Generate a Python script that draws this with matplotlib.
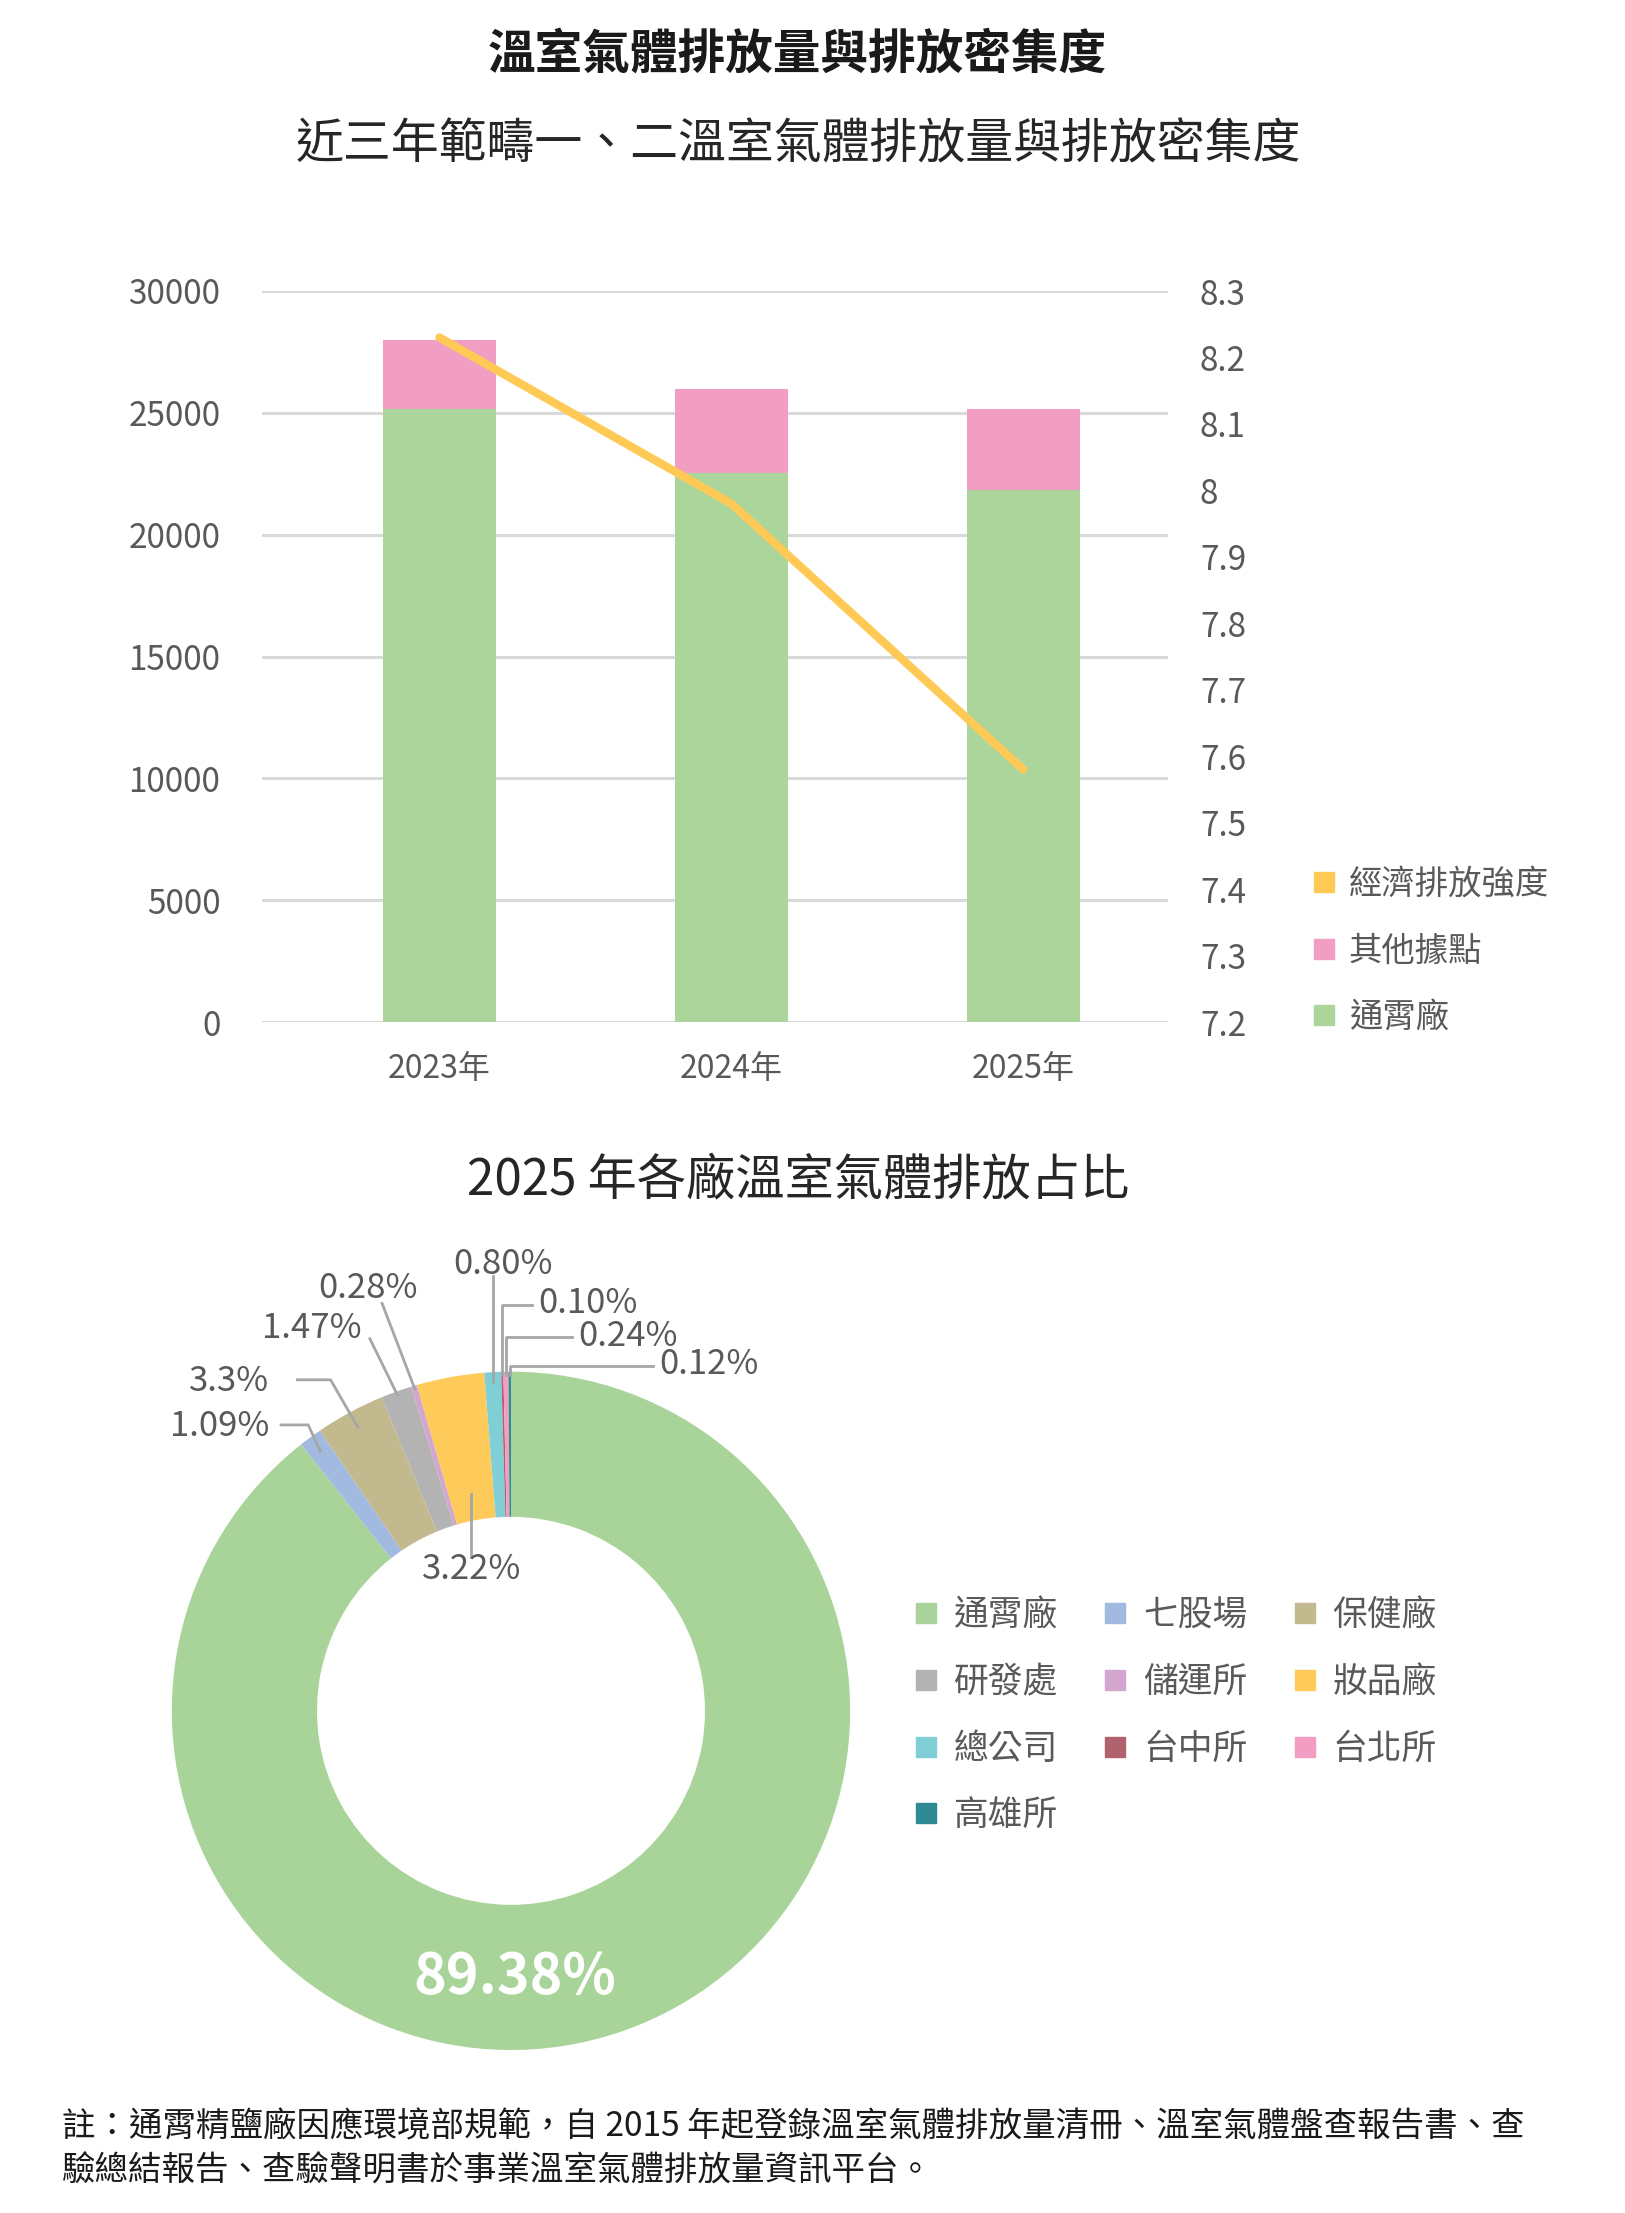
import numpy as np
import matplotlib.pyplot as plt
from matplotlib.lines import Line2D

plt.rcParams['font.family'] = ['Noto Sans CJK TC', 'DejaVu Sans']

# ---------------------------------------------------------
# 資料
# ---------------------------------------------------------
years = ['2023年', '2024年', '2025年']
tongxiao = [25150, 22520, 21850]      # 通霄廠
others = [2850, 3460, 3320]           # 其他據點
intensity = [8.23, 7.98, 7.58]        # 經濟排放強度

sites = ['通霄廠', '七股場', '保健廠', '研發處', '儲運所',
         '妝品廠', '總公司', '台中所', '台北所', '高雄所']
share = [89.38, 1.09, 3.3, 1.47, 0.28, 3.22, 0.80, 0.10, 0.24, 0.12]
share_labels = ['89.38%', '1.09%', '3.3%', '1.47%', '0.28%',
                '3.22%', '0.80%', '0.10%', '0.24%', '0.12%']

GREEN = '#ABD59A'
PINK = '#F29DC2'
YELLOW = '#FFC955'
site_colors = ['#A9D499', '#A2B9E0', '#C3B98F', '#B3B3B3', '#D2A6CF',
               '#FECB5A', '#80CFD6', '#B0636D', '#F29DC2', '#2F8A93']

TXT = '#595959'

W, H = 1625, 2213
fig = plt.figure(figsize=(W / 100, H / 100), dpi=100)


def fx(px):
    return px / W


def fy(py):
    return 1 - py / H


# ---------------------------------------------------------
# 標題
# ---------------------------------------------------------
fig.text(fx(797), fy(55), '溫室氣體排放量與排放密集度', ha='center', va='center',
         fontsize=34.3, fontweight='heavy', color='#1A1A1A')
fig.text(fx(798), fy(145), '近三年範疇一、二溫室氣體排放量與排放密集度', ha='center',
         va='center', fontsize=34.5, color='#262626')

# ---------------------------------------------------------
# 長條 + 折線圖
# ---------------------------------------------------------
ax = fig.add_axes([fx(262), fy(1022), fx(1168) - fx(262), fy(291) - fy(1022)])
x = np.arange(len(years))
ax.bar(x, tongxiao, width=0.388, color=GREEN, zorder=2)
ax.bar(x, others, bottom=tongxiao, width=0.388, color=PINK, zorder=2)
ax.set_ylim(0, 30000)
ax.set_yticks(np.arange(0, 30001, 5000))
ax.set_xlim(-0.608, 2.496)
ax.set_xticks(x, years)
ax.grid(axis='y', color='#D9D9D9', lw=2.2)
ax.set_axisbelow(True)
for s in ax.spines.values():
    s.set_visible(False)
ax.tick_params(length=0, labelsize=24, colors=TXT)
ax.tick_params(axis='y', pad=30)
ax.tick_params(axis='x', pad=22, labelsize=23)

ax2 = ax.twinx()
ax2.plot(x, intensity, color=YELLOW, lw=6, solid_capstyle='round', zorder=3)
ax2.set_ylim(7.2, 8.3)
rt = np.round(np.arange(7.2, 8.31, 0.1), 1)
ax2.set_yticks(rt, [f'{t:g}' for t in rt])
for s in ax2.spines.values():
    s.set_visible(False)
ax2.tick_params(length=0, labelsize=24, colors=TXT, pad=23)

bar_handles = [
    Line2D([], [], ls='none', marker='s', ms=14, color=YELLOW, label='經濟排放強度'),
    Line2D([], [], ls='none', marker='s', ms=14, color=PINK, label='其他據點'),
    Line2D([], [], ls='none', marker='s', ms=14, color=GREEN, label='通霄廠'),
]
fig.legend(handles=bar_handles, loc='center left', bbox_to_anchor=(fx(1312), fy(951)),
           frameon=False, fontsize=24, labelcolor=TXT, handlelength=0.7,
           handletextpad=0.4, labelspacing=0.95, borderpad=0, borderaxespad=0)

# ---------------------------------------------------------
# 圓環圖
# ---------------------------------------------------------
fig.text(fx(798), fy(1180), '2025 年各廠溫室氣體排放占比', ha='center', va='center',
         fontsize=35.5, color='#262626')

# 圓心 (511, 1711)，半徑 339 px
pax = fig.add_axes([fx(104), fy(2084), fx(918) - fx(104), fy(1202) - fy(2084)])
wedges, _ = pax.pie(share, colors=site_colors, startangle=90, counterclock=False,
                    radius=1, wedgeprops=dict(width=0.428, edgecolor='none'))
pax.set_xlim(-1.2, 1.2)
pax.set_ylim(-1.1, 1.5)
pax.set_aspect('equal')
pax.axis('off')


def anchor(i, r):
    a = np.deg2rad((wedges[i].theta1 + wedges[i].theta2) / 2)
    return r * np.cos(a), r * np.sin(a)


LC = '#A6A6A6'
LS = 25
LW = 2.0

# 89.38% 白色粗體
pax.text(0.012, -0.785, share_labels[0], ha='center', va='center', fontsize=40,
         fontweight='bold', color='white')

# 左側標籤：橫線 + 斜線
for i, ty, x1, x2, r in [(1, 0.838, -0.678, -0.598, 0.95), (2, 0.971, -0.630, -0.532, 0.95)]:
    axp, ayp = anchor(i, r)
    pax.plot([x1, x2, axp], [ty + 0.005, ty + 0.005, ayp], color=LC, lw=LW)
    pax.text(-0.712, ty, share_labels[i], ha='right', va='center', fontsize=LS, color=TXT)

# 斜線標籤
for i, tx, ty, sx, sy in [(3, -0.587, 1.128, -0.416, 1.097), (4, -0.422, 1.246, -0.380, 1.201)]:
    axp, ayp = anchor(i, 0.99)
    pax.plot([sx, axp], [sy, ayp], color=LC, lw=LW)
    pax.text(tx, ty, share_labels[i], ha='center', va='center', fontsize=LS, color=TXT)

# 3.22% 在中空處
axp, ayp = anchor(5, 0.65)
pax.plot([axp, axp], [0.455, ayp], color=LC, lw=LW)
pax.text(axp, 0.416, share_labels[5], ha='center', va='center', fontsize=LS, color=TXT)

# 0.80% 垂直線
axp, ayp = anchor(6, 0.97)
pax.plot([axp, axp], [1.281, ayp], color=LC, lw=LW)
pax.text(-0.024, 1.316, share_labels[6], ha='center', va='center', fontsize=LS, color=TXT)

# 右上小數值：橫線 + 垂直線
for i, tx, ty in [(7, 0.080, 1.202), (8, 0.198, 1.105), (9, 0.438, 1.020)]:
    axp, ayp = anchor(i, 0.99)
    pax.plot([tx - 0.018, axp, axp], [ty - 0.004, ty - 0.004, ayp], color=LC, lw=LW)
    pax.text(tx, ty, share_labels[i], ha='left', va='center', fontsize=LS, color=TXT)

# 圓環圖圖例（3 欄，逐列排列）
pie_handles = [Line2D([], [], ls='none', marker='s', ms=15, color=c, label=s)
               for s, c in zip(sites, site_colors)]
order = [0, 3, 6, 9, 1, 4, 7, 2, 5, 8]
fig.legend(handles=[pie_handles[k] for k in order], ncol=3, loc='center left',
           bbox_to_anchor=(fx(914), fy(1716)), frameon=False, fontsize=25,
           labelcolor=TXT, handlelength=0.7, handletextpad=0.45, columnspacing=1.3,
           labelspacing=0.91, borderpad=0, borderaxespad=0)

# ---------------------------------------------------------
# 註
# ---------------------------------------------------------
fig.text(fx(62), fy(2149),
         '註：通霄精鹽廠因應環境部規範，自 2015 年起登錄溫室氣體排放量清冊、溫室氣體盤查報告書、查\n'
         '驗總結報告、查驗聲明書於事業溫室氣體排放量資訊平台。',
         ha='left', va='center', fontsize=24.1, color='#1A1A1A', linespacing=1.31)

fig.savefig('out.png', dpi=100)
